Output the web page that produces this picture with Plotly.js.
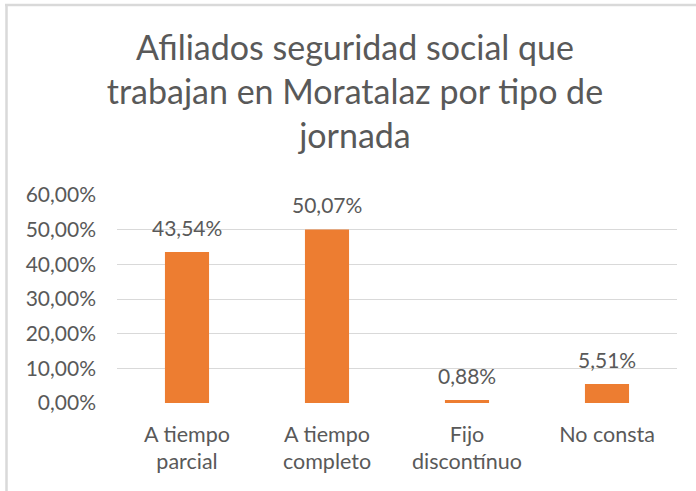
<!DOCTYPE html>
<html>
<head>
<meta charset="utf-8">
<script src="https://cdn.plot.ly/plotly-3.0.1.min.js"></script>
<style>html,body{margin:0;padding:0;background:#fff;}#chart{width:696px;height:491px;}</style>
</head>
<body>
<div id="chart"></div>
<script>
// Data
const categories = ["A tiempo<br>parcial", "A tiempo<br>completo", "Fijo<br>discontínuo", "No consta"];
const values = [0.4354, 0.5007, 0.0088, 0.0551];
const valueLabels = ["43,54%", "50,07%", "0,88%", "5,51%"];
const yTickValues = [0, 0.1, 0.2, 0.3, 0.4, 0.5, 0.6];
const titleText = "Afiliados seguridad social que<br>trabajan en Moratalaz por tipo de<br>jornada";

const FONT = "Lato, 'Open Sans', sans-serif";
const TXT = "#595959";

// plot area in pixels: x 117..677, y 195..403
const L = 117, R = 19, T = 195, B = 88, W = 696, H = 491;
const pw = W - L - R, ph = H - T - B;
const px = x => (x - L) / pw;
const py = y => (H - B - y) / ph;

const trace = {
  type: "bar",
  x: categories,
  y: values,
  width: 0.315,
  marker: {color: "#ED7D31"},
  hoverinfo: "none"
};

const annotations = categories.map((c, i) => ({
  x: c, y: values[i], xref: "x", yref: "y",
  text: valueLabels[i], showarrow: false,
  yanchor: "bottom", yshift: 10,
  font: {family: FONT, size: 21, color: TXT}
}));

const layout = {
  width: W, height: H,
  margin: {l: L, r: R, t: T, b: B, pad: 0},
  paper_bgcolor: "#ffffff",
  plot_bgcolor: "#ffffff",
  separators: ",.",
  showlegend: false,
  title: {
    text: titleText,
    font: {family: FONT, size: 34, color: TXT},
    x: 0.51, xref: "container", xanchor: "center",
    y: 1 - 60 / H, yref: "container", yanchor: "top"
  },
  xaxis: {
    type: "category",
    showgrid: false, zeroline: false, showline: false,
    ticks: "", ticklabelstandoff: 16,
    tickfont: {family: FONT, size: 21.5, color: TXT}
  },
  yaxis: {
    range: [0, 0.6],
    tickvals: yTickValues,
    tickformat: ".2%",
    showgrid: true, gridcolor: "#d9d9d9", gridwidth: 1,
    zeroline: false, showline: false, ticks: "",
    ticklabelstandoff: 20,
    tickfont: {family: FONT, size: 21, color: TXT}
  },
  annotations: annotations,
  shapes: [
    {type: "line", xref: "paper", yref: "paper", x0: px(5), x1: px(W), y0: py(5), y1: py(5), line: {color: "#d9d9d9", width: 2.5}},
    {type: "line", xref: "paper", yref: "paper", x0: px(6.5), x1: px(6.5), y0: py(5), y1: py(H), line: {color: "#d9d9d9", width: 2.5}}
  ]
};

Plotly.newPlot("chart", [trace], layout, {staticPlot: true, displayModeBar: false});
</script>
</body>
</html>
